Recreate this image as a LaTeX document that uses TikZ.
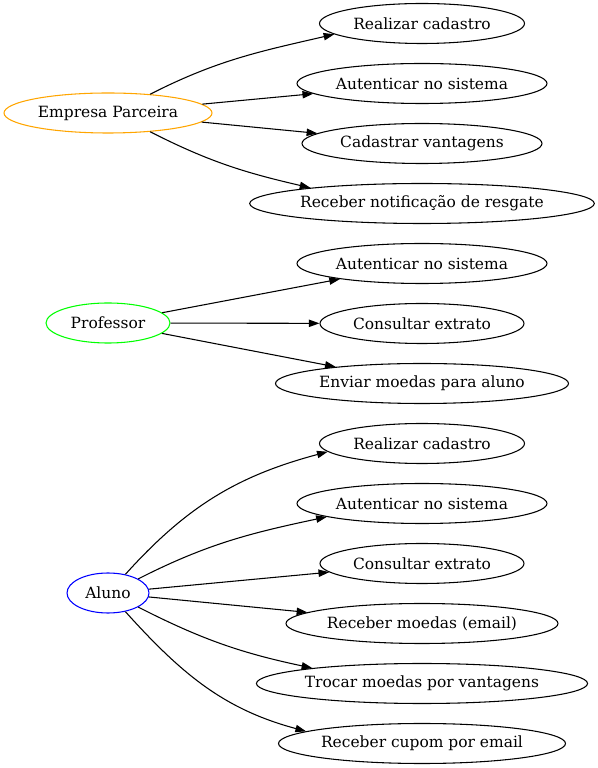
\documentclass[tikz,border=0pt]{standalone}
\usepackage{fontspec}
\setmainfont{DejaVu Serif}
\usetikzlibrary{shapes.geometric,arrows.meta}

\definecolor{gvorange}{RGB}{255,165,0}
\definecolor{gvgreen}{RGB}{0,255,0}
\definecolor{gvblue}{RGB}{0,0,255}

\begin{document}
\begin{tikzpicture}[x=0.75pt,y=0.75pt,
  every node/.style={font=\fontsize{11.6}{14}\selectfont},
  actor/.style={ellipse,draw,line width=0.8pt,inner sep=0pt,minimum height=30pt},
  usecase/.style={ellipse,draw=black,line width=0.8pt,inner sep=0pt,minimum height=30pt},
  rel/.style={-{Triangle[length=8pt,width=5.5pt]},line width=0.8pt}]
\useasboundingbox (0,0) rectangle (597,768);

% actors
\node [actor,draw=gvorange,minimum width=156pt] (emp) at (108,655) {Empresa Parceira};
\node [actor,draw=gvgreen,minimum width=93pt] (prof) at (108,445) {Professor};
\node [actor,draw=gvblue,minimum width=61.5pt] (aluno) at (108,175) {Aluno};

% empresa parceira
\node [usecase,minimum width=153.75pt] (emp1) at (422,744.5) {Realizar cadastro};
\node [usecase,minimum width=187.5pt] (emp2) at (422,684.5) {Autenticar no sistema};
\node [usecase,minimum width=180pt] (emp3) at (422,624.5) {Cadastrar vantagens};
\node [usecase,minimum width=255.75pt] (emp4) at (422,564.5) {Receber notificação de resgate};

% professor
\node [usecase,minimum width=187.5pt] (prof1) at (422,504.5) {Autenticar no sistema};
\node [usecase,minimum width=153pt] (prof2) at (422,444.5) {Consultar extrato};
\node [usecase,minimum width=219.75pt] (prof3) at (422,384.5) {Enviar moedas para aluno};

% aluno
\node [usecase,minimum width=153.75pt] (al1) at (422,324.5) {Realizar cadastro};
\node [usecase,minimum width=187.5pt] (al2) at (422,264.5) {Autenticar no sistema};
\node [usecase,minimum width=153pt] (al3) at (422,204.5) {Consultar extrato};
\node [usecase,minimum width=204pt] (al4) at (422,144.5) {Receber moedas (email)};
\node [usecase,minimum width=248.25pt] (al5) at (422,84.5) {Trocar moedas por vantagens};
\node [usecase,minimum width=215.25pt] (al6) at (422,24.5) {Receber cupom por email};

% edges
\draw [rel] (emp.24) to[out=27,in=193] (emp1.187);
\draw [rel] (emp) -- (emp2);
\draw [rel] (emp) -- (emp3);
\draw [rel] (emp.-24) to[out=-27,in=167] (emp4.172);

\draw [rel] (prof) -- (prof1);
\draw [rel] (prof) -- (prof2);
\draw [rel] (prof) -- (prof3);

\draw [rel] (aluno.47) to[out=48,in=195] (al1.185);
\draw [rel] (aluno.25) to[out=27,in=192] (al2.188);
\draw [rel] (aluno) -- (al3);
\draw [rel] (aluno) -- (al4);
\draw [rel] (aluno.-25) to[out=-27,in=168] (al5.172);
\draw [rel] (aluno.-47) to[out=-48,in=165] (al6.174);

\end{tikzpicture}
\end{document}
